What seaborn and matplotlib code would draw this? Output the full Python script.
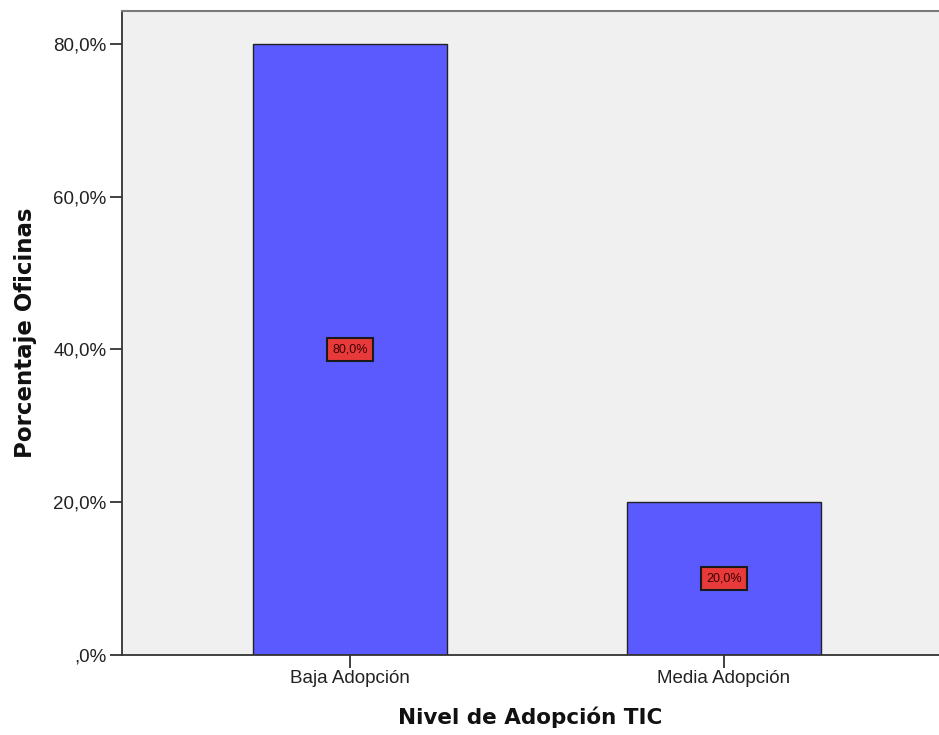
import pandas as pd
import numpy as np
import matplotlib
matplotlib.use("Agg")
import matplotlib.pyplot as plt
import seaborn as sns

sns.set_style("white")
plt.rcParams['font.family'] = ['Liberation Sans', 'DejaVu Sans']

niveles = ["Baja Adopción", "Media Adopción"]
porcentajes = [80.0, 20.0]
ticks_y = [0, 20, 40, 60, 80]
ticks_y_lab = [",0%", "20,0%", "40,0%", "60,0%", "80,0%"]

df = pd.DataFrame({"nivel": niveles, "pct": porcentajes})

fig = plt.figure(figsize=(9.39, 7.35), dpi=100)
ax = fig.add_axes([122/939, 1 - 655/735, 1 - 122/939, (655 - 11)/735])
ax.set_facecolor("#f0f0f0")

sns.barplot(data=df, x="nivel", y="pct", color="#5a5aff", saturation=1,
            width=0.52, edgecolor="#222222", linewidth=1.0, ax=ax)

# etiquetas de valor en cajas rojas
for i, v in enumerate(porcentajes):
    ax.text(i, v / 2, f"{v:.1f}%".replace(".", ","), ha="center", va="center",
            fontsize=9, color="#3a0000",
            bbox=dict(boxstyle="square,pad=0.45", facecolor="#e83a3a",
                      edgecolor="#1a1a1a", linewidth=1.5))

ax.set_xlim(-0.61, 1.575)
ax.set_ylim(0, 84.3)
ax.set_yticks(ticks_y)
ax.set_yticklabels(ticks_y_lab, fontsize=13.5, color="#222222")
ax.tick_params(axis="x", labelsize=13.5, colors="#222222")
ax.tick_params(axis="both", direction="out", length=9, width=1.3,
               left=True, bottom=True, color="#333333", pad=2)

for side in ["left", "bottom"]:
    ax.spines[side].set_color("#333333")
    ax.spines[side].set_linewidth(1.3)
ax.spines["top"].set_color("#7a7a7a")
ax.spines["top"].set_linewidth(1.5)
ax.spines["right"].set_visible(False)

ax.set_xlabel("Nivel de Adopción TIC", fontsize=15.5, fontweight="bold",
              color="#111111", labelpad=14, family=["DejaVu Sans"])
ax.set_ylabel("Porcentaje Oficinas", fontsize=16.5, fontweight="bold",
              color="#111111", labelpad=12, family=["DejaVu Sans"])

fig.savefig("out.png", dpi=100)
